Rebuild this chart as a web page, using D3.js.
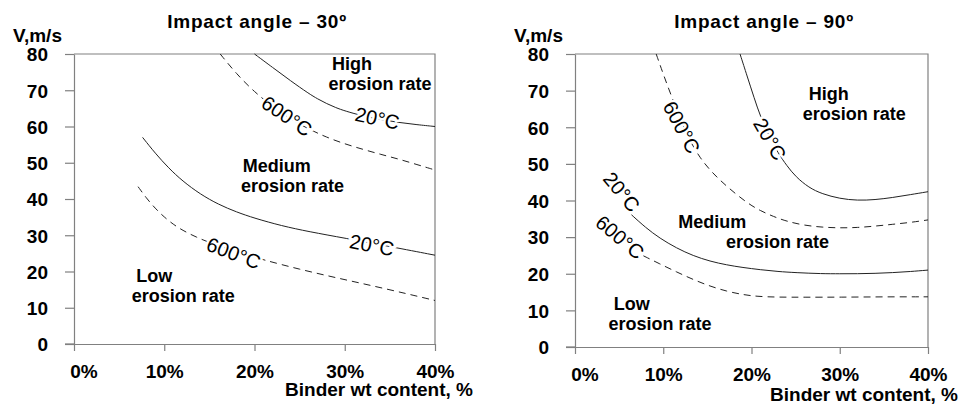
<!DOCTYPE html>
<html>
<head>
<meta charset="utf-8">
<script src="https://cdn.jsdelivr.net/npm/d3@7"></script>
<style>
  body { margin: 0; background: #fff; }
  svg { display: block; font-family: "Liberation Sans", Arial, sans-serif; }
</style>
</head>
<body>
<div id="chart"></div>
<script>
// ---- data (binder wt %, velocity m/s) ----
const xTicks = [0, 10, 20, 30, 40];
const yTicks = [0, 10, 20, 30, 40, 50, 60, 70, 80];
const xTickLabels = ['0%', '10%', '20%', '30%', '40%'];

// impact angle 30
const a30Upper20 = [[20, 80], [22, 76.3], [24, 72.6], [26, 69.1], [27, 67.6], [28, 66.3], [29, 65.2], [30, 64.3], [32, 62.9], [34, 61.9], [36, 61.1], [38, 60.5], [40, 60]];
const a30Upper600 = [[16.2, 80], [18, 74.5], [20, 69.5], [22, 65.5], [24, 62], [26, 59.3], [28, 57], [30, 55.2], [32, 53.7], [34, 52.3], [36, 51], [38, 49.5], [40, 48]];
const a30Lower20 = [[7.6, 57], [9, 52.6], [10.5, 48.5], [12, 45], [14, 41.3], [16, 38.5], [18, 36.4], [20, 34.7], [23, 32.6], [26, 31], [30, 29.2], [35, 26.9], [40, 24.5]];
const a30Lower600 = [[7.1, 43.4], [8, 40.3], [9, 37.4], [10, 35], [11, 33], [12, 31.4], [13.5, 29.5], [15.5, 27.5], [18, 25.4], [21, 23.2], [25, 20.6], [29, 18.3], [33, 16.1], [37, 13.8], [40, 12]];

// impact angle 90
const a90Upper20 = [[18.7, 80], [19.5, 74], [20.3, 68], [21, 63], [22, 57.5], [23, 53], [24, 49.5], [25, 46.5], [26.5, 43.5], [28, 41.8], [30, 40.5], [32, 40], [34, 40.2], [36, 40.8], [38, 41.6], [40, 42.4]];
const a90Upper600 = [[9.2, 80], [10, 74.5], [11, 68], [12, 62], [13, 56.3], [14.2, 51.5], [15.5, 47.7], [17.2, 43.8], [19.5, 39.3], [21, 37.2], [22.5, 35.6], [24, 34.3], [26, 33.2], [28, 32.7], [30, 32.5], [32, 32.6], [34, 33], [36, 33.5], [38, 34], [40, 34.7]];
const a90Lower20 = [[6.4, 36.1], [8, 32.6], [9.6, 29.7], [11.5, 27], [13.4, 24.9], [15.3, 23.4], [17.2, 22.4], [19, 21.7], [21, 21.1], [23, 20.6], [25, 20.3], [28, 20], [30, 20], [32, 20], [34, 20.1], [36, 20.3], [38, 20.6], [40, 21]];
const a90Lower600 = [[7.75, 24.9], [9.6, 22.7], [11.5, 20.5], [13.4, 18.4], [15.3, 16.6], [17.2, 15.2], [19, 14.3], [20.6, 13.8], [23, 13.6], [26, 13.6], [30, 13.6], [35, 13.7], [40, 13.7]];

// curve labels: [x, y, text, rotation]
const a30CurveLabels = [[23.6, 62.9, '600°C', 34], [33.6, 62.3, '20°C', 12], [17.7, 25.1, '600°C', 21], [33, 27.3, '20°C', 11]];
const a90CurveLabels = [[12.1, 60, '600°C', 62], [22.1, 56.8, '20°C', 60], [5.3, 42.4, '20°C', 50], [5.1, 30, '600°C', 40]];

// region labels: [x, y, line1, line2 x, line2]
const a30Regions = [[28.6, 75.5, 'High', 28.2, 'erosion rate'], [18.7, 47.5, 'Medium', 18.5, 'erosion rate'], [6.9, 17, 'Low', 6.4, 'erosion rate']];
const a90Regions = [[26.5, 67.5, 'High', 25.8, 'erosion rate'], [11.7, 32.5, 'Medium', 17.1, 'erosion rate'], [4.4, 10, 'Low', 3.8, 'erosion rate']];

const width = 962, height = 405;
const svg = d3.select('#chart').append('svg')
  .attr('width', width)
  .attr('height', height);

const panels = [
  { title: 'Impact angle – 30º', left: 74, right: 435, top: 54, bottom: 344, titleX: 257,
    curves: [[a30Upper20, false], [a30Upper600, true], [a30Lower20, false], [a30Lower600, true]],
    curveLabels: a30CurveLabels, regions: a30Regions, xlabelY: 396, xlabelX: 473 },
  { title: 'Impact angle – 90º', left: 575, right: 928, top: 54, bottom: 347, titleX: 764,
    curves: [[a90Upper20, false], [a90Upper600, true], [a90Lower20, false], [a90Lower600, true]],
    curveLabels: a90CurveLabels, regions: a90Regions, xlabelY: 401, xlabelX: 958 }
];

const axisColor = '#808080';

panels.forEach(p => {
  const x = d3.scaleLinear().domain([0, 40]).range([p.left, p.right]);
  const y = d3.scaleLinear().domain([0, 80]).range([p.bottom, p.top]);
  const g = svg.append('g');

  // frame: top and right borders
  g.append('path')
    .attr('d', `M${p.left},${p.top}H${p.right}V${p.bottom}`)
    .attr('fill', 'none')
    .attr('stroke', axisColor)
    .attr('stroke-width', 1.2);

  // y axis
  const yAxis = g.append('g')
    .attr('transform', `translate(${p.left},0)`)
    .call(d3.axisLeft(y).tickValues(yTicks).tickSize(9).tickPadding(17).tickSizeOuter(0));
  yAxis.select('.domain').attr('stroke', axisColor).attr('stroke-width', 1.2);
  yAxis.selectAll('.tick line').attr('stroke', axisColor).attr('stroke-width', 1.2);
  yAxis.selectAll('.tick text')
    .attr('fill', '#000')
    .style('font-size', '19px')
    .style('font-weight', 'bold')
    .attr('dy', '0.36em');

  // x axis
  const xAxis = g.append('g')
    .attr('transform', `translate(0,${p.bottom})`)
    .call(d3.axisBottom(x).tickValues(xTicks).tickSize(7).tickPadding(14).tickSizeOuter(0)
      .tickFormat((d, i) => xTickLabels[i]));
  xAxis.select('.domain').attr('stroke', axisColor).attr('stroke-width', 1.2);
  xAxis.selectAll('.tick line').attr('stroke', axisColor).attr('stroke-width', 1.2);
  xAxis.selectAll('.tick text')
    .attr('fill', '#000')
    .style('font-size', '19px')
    .style('font-weight', 'bold')
    .attr('dx', (d, i) => i === 0 ? '0.5em' : 0);
  // x axis line extends under the 0 tick on the left
  g.append('line')
    .attr('x1', p.left - 9).attr('x2', p.left)
    .attr('y1', p.bottom).attr('y2', p.bottom)
    .attr('stroke', axisColor).attr('stroke-width', 1.2);

  // curves
  const line = d3.line()
    .x(d => x(d[0]))
    .y(d => y(d[1]))
    .curve(d3.curveBasis);

  p.curves.forEach(([data, dashed]) => {
    g.append('path')
      .datum(data)
      .attr('d', line)
      .attr('fill', 'none')
      .attr('stroke', '#222')
      .attr('stroke-width', 1)
      .attr('stroke-dasharray', dashed ? '7,5' : null);
  });

  // curve labels, with white halo to break the line
  p.curveLabels.forEach(([lx, ly, txt, rot]) => {
    g.append('text')
      .attr('transform', `translate(${x(lx)},${y(ly)}) rotate(${rot})`)
      .attr('text-anchor', 'middle')
      .attr('dy', '0.36em')
      .style('font-size', '20px')
      .style('paint-order', 'stroke')
      .attr('stroke', '#fff')
      .attr('stroke-width', 5)
      .attr('fill', '#000')
      .text(txt);
  });

  // region labels
  p.regions.forEach(([rx, ry, l1, rx2, l2]) => {
    const t = g.append('text')
      .attr('y', y(ry))
      .style('font-size', '18px')
      .style('font-weight', 'bold');
    t.append('tspan').attr('x', x(rx)).text(l1);
    t.append('tspan').attr('x', x(rx2)).attr('dy', '1.1em').text(l2);
  });

  // title
  g.append('text')
    .attr('x', p.titleX)
    .attr('y', 28)
    .attr('text-anchor', 'middle')
    .style('font-size', '19px')
    .style('font-weight', 'bold')
    .style('letter-spacing', '0.8px')
    .text(p.title);

  // y axis caption
  g.append('text')
    .attr('x', p.left - 61)
    .attr('y', 42)
    .style('font-size', '19px')
    .style('font-weight', 'bold')
    .text('V,m/s');

  // x axis caption
  g.append('text')
    .attr('x', p.xlabelX)
    .attr('y', p.xlabelY)
    .attr('text-anchor', 'end')
    .style('font-size', '19px')
    .style('font-weight', 'bold')
    .text('Binder wt content, %');
});
</script>
</body>
</html>
